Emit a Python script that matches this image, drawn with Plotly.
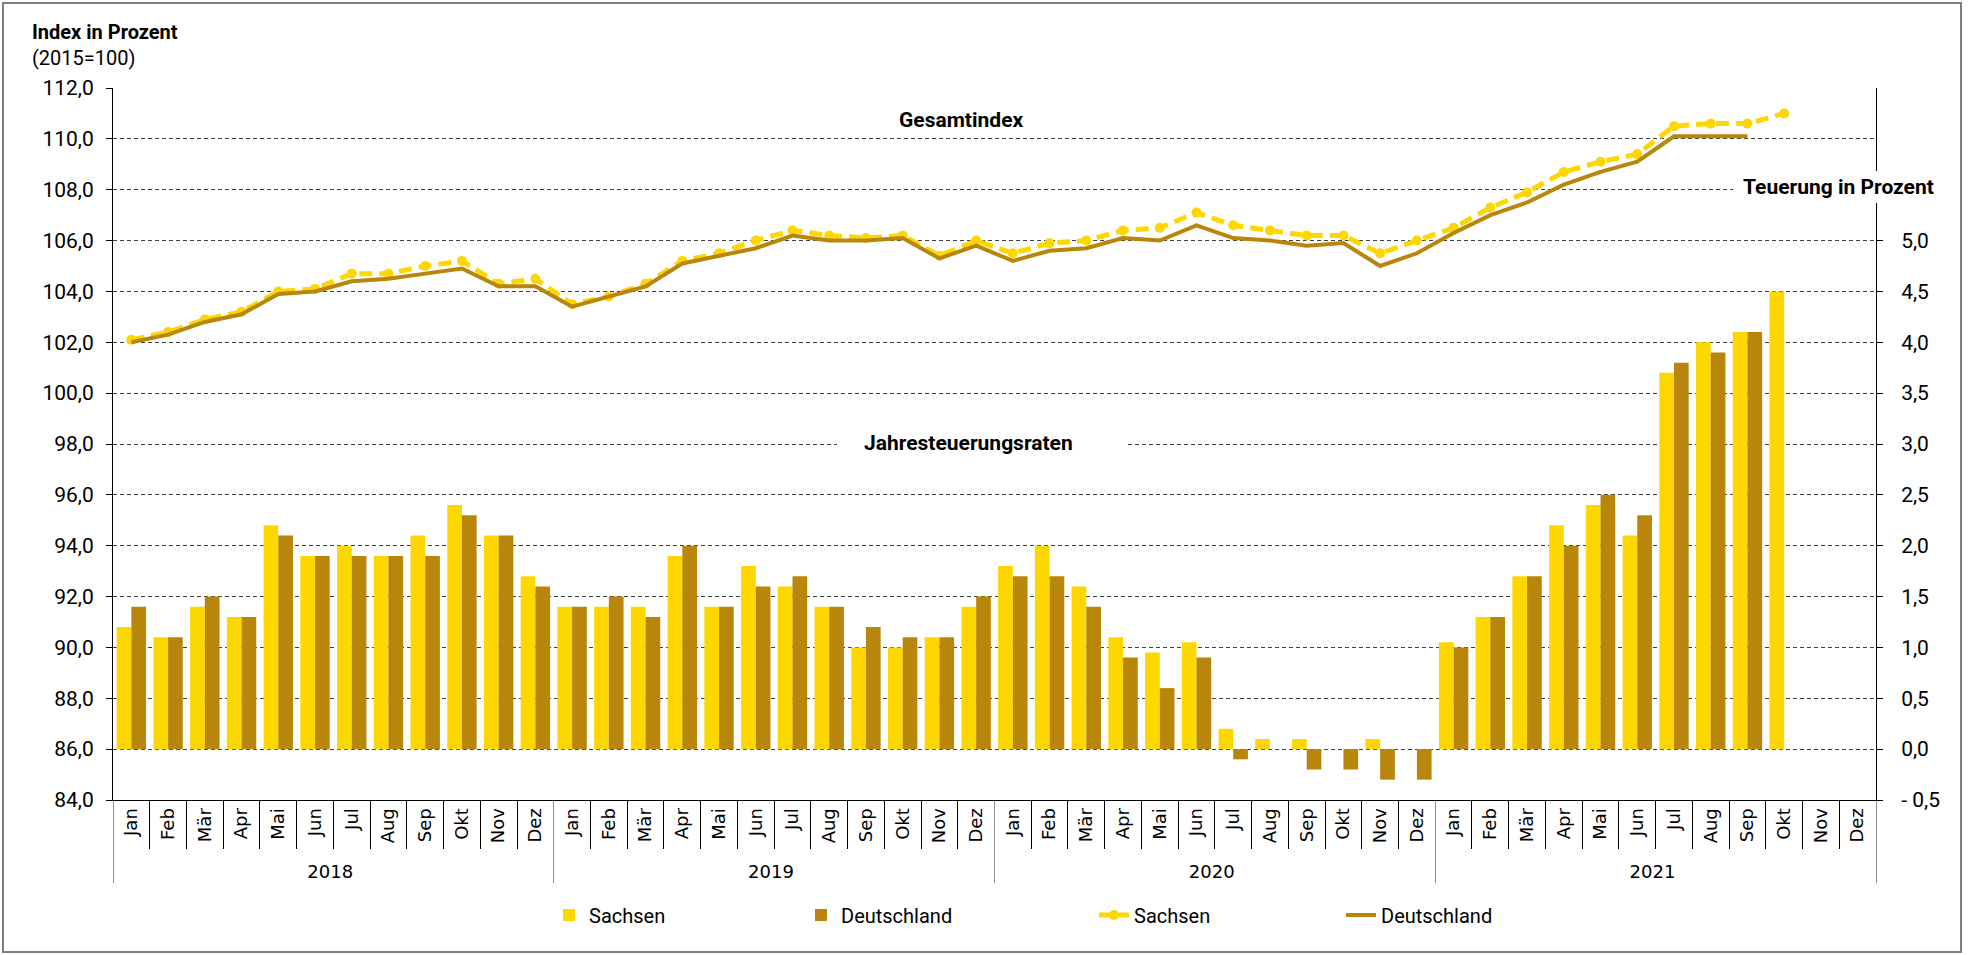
import plotly.graph_objects as go

# ---------------- data ----------------
months = ["Jan", "Feb", "Mär", "Apr", "Mai", "Jun", "Jul", "Aug", "Sep", "Okt", "Nov", "Dez"]
years = ["2018", "2019", "2020", "2021"]

# Jahresteuerungsraten (Prozent), right axis
rate_sachsen = [
    1.2, 1.1, 1.4, 1.3, 2.2, 1.9, 2.0, 1.9, 2.1, 2.4, 2.1, 1.7,      # 2018
    1.4, 1.4, 1.4, 1.9, 1.4, 1.8, 1.6, 1.4, 1.0, 1.0, 1.1, 1.4,      # 2019
    1.8, 2.0, 1.6, 1.1, 0.95, 1.05, 0.2, 0.1, 0.1, 0.0, 0.1, 0.0,    # 2020
    1.05, 1.3, 1.7, 2.2, 2.4, 2.1, 3.7, 4.0, 4.1, 4.5,               # 2021
]
rate_deutschland = [
    1.4, 1.1, 1.5, 1.3, 2.1, 1.9, 1.9, 1.9, 1.9, 2.3, 2.1, 1.6,
    1.4, 1.5, 1.3, 2.0, 1.4, 1.6, 1.7, 1.4, 1.2, 1.1, 1.1, 1.5,
    1.7, 1.7, 1.4, 0.9, 0.6, 0.9, -0.1, 0.0, -0.2, -0.2, -0.3, -0.3,
    1.0, 1.3, 1.7, 2.0, 2.5, 2.3, 3.8, 3.9, 4.1,
]

# Gesamtindex (2015=100), left axis
index_sachsen = [
    102.1, 102.4, 102.9, 103.2, 104.0, 104.1, 104.7, 104.7, 105.0, 105.2, 104.3, 104.5,
    103.5, 103.8, 104.3, 105.2, 105.5, 106.0, 106.4, 106.2, 106.1, 106.2, 105.4, 106.0,
    105.5, 105.9, 106.0, 106.4, 106.5, 107.1, 106.6, 106.4, 106.2, 106.2, 105.5, 106.0,
    106.5, 107.3, 107.9, 108.7, 109.1, 109.4, 110.5, 110.6, 110.6, 111.0,
]
index_deutschland = [
    102.0, 102.3, 102.8, 103.1, 103.9, 104.0, 104.4, 104.5, 104.7, 104.9, 104.2, 104.2,
    103.4, 103.8, 104.2, 105.1, 105.4, 105.7, 106.2, 106.0, 106.0, 106.1, 105.3, 105.8,
    105.2, 105.6, 105.7, 106.1, 106.0, 106.6, 106.1, 106.0, 105.8, 105.9, 105.0, 105.5,
    106.3, 107.0, 107.5, 108.2, 108.7, 109.1, 110.1, 110.1, 110.1,
]

left_ticks = list(range(84, 113, 2))
right_tickvals = [-0.5, 0.0, 0.5, 1.0, 1.5, 2.0, 2.5, 3.0, 3.5, 4.0, 4.5, 5.0]
right_ticktext = ["- 0,5", "0,0", "0,5", "1,0", "1,5", "2,0", "2,5", "3,0", "3,5", "4,0", "4,5", "5,0"]

# ---------------- styling ----------------
YELLOW = "#FFD700"
GOLD = "#B8860B"
FONT = "Roboto, Liberation Sans, sans-serif"

all_years = [y for y in years for _ in months]
all_months = [m for _ in years for m in months]
N = len(all_months)
X = [all_years, all_months]


def pad(values):
    return list(values) + [None] * (N - len(values))


fig = go.Figure()

fig.add_trace(go.Bar(
    x=X, y=pad(rate_sachsen), name="Sachsen",
    marker=dict(color=YELLOW, line=dict(width=0)), yaxis="y2", legend="legend",
))
fig.add_trace(go.Bar(
    x=X, y=pad(rate_deutschland), name="Deutschland",
    marker=dict(color=GOLD, line=dict(width=0)), yaxis="y2", legend="legend",
))
fig.add_trace(go.Scatter(
    x=X, y=pad(index_sachsen), name="Sachsen",
    mode="lines+markers",
    line=dict(color=YELLOW, width=5, dash="13px,7px"),
    marker=dict(color=YELLOW, size=10, symbol="circle"),
    yaxis="y", legend="legend2",
))
fig.add_trace(go.Scatter(
    x=X, y=pad(index_deutschland), name="Deutschland",
    mode="lines", line=dict(color=GOLD, width=4), yaxis="y", legend="legend2",
))

# plot area in pixels
L, R, T, B = 113, 1876, 88, 800
W, H = R - L, B - T


def px_x(x):
    return (x - L) / W


def px_y(y):
    return (B - y) / H


annotations = [
    dict(text="<b>Index in Prozent</b>", x=px_x(30), y=px_y(32), xanchor="left", yanchor="middle",
         font=dict(size=20)),
    dict(text="(2015=100)", x=px_x(30), y=px_y(58), xanchor="left", yanchor="middle",
         font=dict(size=20)),
    dict(text="<b>Gesamtindex</b>", x=px_x(961), y=px_y(120), xanchor="center", yanchor="middle",
         font=dict(size=21)),
    dict(text="<b>Jahresteuerungsraten</b>", x=px_x(968), y=px_y(443), xanchor="center", yanchor="middle",
         font=dict(size=21)),
    dict(text="<b>Teuerung in Prozent</b>", x=px_x(1838), y=px_y(187), xanchor="center", yanchor="middle",
         font=dict(size=21)),
]
for a in annotations:
    a.update(xref="paper", yref="paper", showarrow=False)
    a["font"].update(family=FONT, color="black")

shapes = [
    # white boxes behind the inline labels
    dict(type="rect", xref="paper", yref="paper", x0=px_x(837), x1=px_x(1126), y0=px_y(458), y1=px_y(430),
         fillcolor="white", line=dict(width=0), layer="above"),
    dict(type="rect", xref="paper", yref="paper", x0=px_x(1733), x1=px_x(1945), y0=px_y(203), y1=px_y(171),
         fillcolor="white", line=dict(width=0), layer="above"),
    # outer chart frame
    dict(type="rect", xref="paper", yref="paper", x0=px_x(3), x1=px_x(1961), y0=px_y(952), y1=px_y(3),
         fillcolor="rgba(0,0,0,0)", line=dict(color="#7f7f7f", width=2), layer="above"),
]

legend_common = dict(
    orientation="h", yanchor="middle", xanchor="left", xref="paper", yref="paper",
    entrywidthmode="pixels", itemwidth=30,
    font=dict(family=FONT, size=20, color="black"),
    bgcolor="rgba(0,0,0,0)", traceorder="normal",
)

fig.update_layout(
    width=1970, height=955,
    margin=dict(l=L, r=1970 - R, t=T, b=955 - B, autoexpand=False),
    paper_bgcolor="white", plot_bgcolor="white",
    separators=",.",
    font=dict(family=FONT, size=21, color="black"),
    barmode="group", bargap=0.2, bargroupgap=0.0,
    showlegend=True,
    legend=dict(legend_common, x=px_x(549), y=px_y(915), entrywidth=207),
    legend2=dict(legend_common, x=px_x(1094), y=px_y(915), entrywidth=202),
    annotations=annotations,
    shapes=shapes,
    xaxis=dict(
        type="multicategory", range=[-0.5, N - 0.5], automargin=False,
        showline=True, linecolor="black", linewidth=1,
        ticks="outside", ticklen=48, tickcolor="black", tickwidth=1,
        tickangle=-90,
        tickfont=dict(family="DejaVu Sans", size=18, color="black"),
        showdividers=True, dividercolor="#8c8c8c", dividerwidth=1,
        showgrid=False, zeroline=False,
    ),
    yaxis=dict(
        range=[84, 112], tickvals=left_ticks, tickformat=".1f", automargin=False,
        showline=True, linecolor="black", linewidth=1,
        ticks="outside", ticklen=6, tickcolor="black",
        showgrid=True, gridcolor="#404040", gridwidth=1, griddash="4px,3px",
        zeroline=False, ticklabelstandoff=8,
        tickfont=dict(family=FONT, size=21, color="black"),
    ),
    yaxis2=dict(
        range=[-0.5, 6.5], overlaying="y", side="right", automargin=False,
        tickvals=right_tickvals, ticktext=right_ticktext,
        showline=True, linecolor="black", linewidth=1,
        ticks="outside", ticklen=6, tickcolor="black",
        showgrid=False, zeroline=False, ticklabelstandoff=14,
        tickfont=dict(family=FONT, size=21, color="black"),
    ),
)

fig.write_html(
    "out.html",
    config={"displayModeBar": False},
    post_script="document.body.style.margin='0px';",
)
